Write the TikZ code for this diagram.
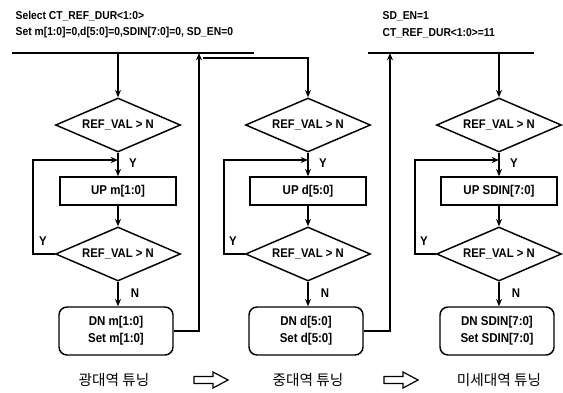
\documentclass[tikz,border=0pt]{standalone}
\usepackage{fontspec}
\setmainfont{Liberation Sans}[FakeStretch=0.9]
\newfontfamily\krfont{Noto Sans CJK KR}
\usetikzlibrary{shapes.geometric,arrows.meta}
\begin{document}
\begin{tikzpicture}[x=0.75pt,y=-0.75pt, line width=1.1pt,
  >={Stealth[length=5.5pt,width=4.5pt]},
  dec/.style={diamond, draw, aspect=2.3, minimum width=93.75pt, minimum height=40.5pt, inner sep=0pt,
    font=\bfseries\fontsize{9.4}{10}\selectfont},
  upbox/.style={rectangle, draw, minimum width=87pt, minimum height=21pt, inner sep=0pt,
    font=\bfseries\fontsize{9.6}{10}\selectfont},
  dnbox/.style={rectangle, rounded corners=6pt, draw, minimum width=85.5pt, minimum height=36pt,
    inner sep=0pt, align=center, font=\bfseries\fontsize{9.6}{12.5}\selectfont},
  lbl/.style={font=\bfseries\fontsize{9.5}{10}\selectfont, inner sep=1pt},
  toptxt/.style={font=\bfseries\fontsize{8.6}{12.5}\selectfont, align=left, anchor=north west, inner sep=0pt},
  kor/.style={font=\krfont\fontsize{11}{12}\selectfont, inner sep=0pt},
  hollow/.style={line width=0.9pt, line join=miter}]
\useasboundingbox (0,0) rectangle (563,392);

% ---------- top texts and bars
\node[toptxt] (tx1) at (15,10) {Select CT\_REF\_DUR<1:0>\\Set m[1:0]=0,d[5:0]=0,SDIN[7:0]=0, SD\_EN=0};
\node[toptxt] (tx2) at (382,11) {SD\_EN=1\\CT\_REF\_DUR<1:0>=11};
\coordinate (b1a) at (12,53);
\coordinate (b1b) at (254,53);
\coordinate (b2a) at (368,53);
\coordinate (b2b) at (534,53);
\draw (b1a) -- (b1b);
\draw (b2a) -- (b2b);

% ---------- column 1
\node[dec] (da1) at (118,125) {REF\_VAL > N};
\node[upbox] (up1) at (118,191) {UP m[1:0]};
\node[dec] (db1) at (118,254) {REF\_VAL > N};
\node[dnbox] (dn1) at (116,331) {DN m[1:0]\\Set m[1:0]};
\coordinate (s1) at (118,53);
\coordinate (j1) at (118,160);
\coordinate (r1) at (199,53);
\draw[->] (s1) -- (da1.north);
\draw[->] (da1.south) -- (up1.north);
\draw[->] (up1.south) -- (db1.north);
\draw[->] (db1.west) -- ++(-22,0) |- (j1);
\draw[->] (db1.south) -- (dn1.north -| db1.south);
\draw[->] (dn1.east) -| (r1);
\node[lbl] (y1) at (133,163) {Y};
\node[lbl] (y1b) at (43,241) {Y};
\node[lbl] (n1) at (135,293) {N};

% ---------- column 2
\node[dec] (da2) at (308,125) {REF\_VAL > N};
\node[upbox] (up2) at (308,191) {UP d[5:0]};
\node[dec] (db2) at (308,254) {REF\_VAL > N};
\node[dnbox] (dn2) at (306,331) {DN d[5:0]\\Set d[5:0]};
\coordinate (s2) at (203,58);
\coordinate (j2) at (308,160);
\coordinate (r2) at (390,53);
\draw[->] (s2) -| (da2.north);
\draw[->] (da2.south) -- (up2.north);
\draw[->] (up2.south) -- (db2.north);
\draw[->] (db2.west) -- ++(-21,0) |- (j2);
\draw[->] (db2.south) -- (dn2.north -| db2.south);
\draw[->] (dn2.east) -| (r2);
\node[lbl] (y2) at (323,163) {Y};
\node[lbl] (y2b) at (233,241) {Y};
\node[lbl] (n2) at (325,293) {N};

% ---------- column 3
\node[dec] (da3) at (499,125) {REF\_VAL > N};
\node[upbox] (up3) at (499,191) {UP SDIN[7:0]};
\node[dec] (db3) at (499,254) {REF\_VAL > N};
\node[dnbox] (dn3) at (497,331) {DN SDIN[7:0]\\Set SDIN[7:0]};
\coordinate (s3) at (499,53);
\coordinate (j3) at (499,160);
\draw[->] (s3) -- (da3.north);
\draw[->] (da3.south) -- (up3.north);
\draw[->] (up3.south) -- (db3.north);
\draw[->] (db3.west) -- ++(-21,0) |- (j3);
\draw[->] (db3.south) -- (dn3.north -| db3.south);
\node[lbl] (y3) at (514,163) {Y};
\node[lbl] (y3b) at (424,241) {Y};
\node[lbl] (n3) at (516,293) {N};

% ---------- bottom labels
\node[kor] (k1) at (114,380) {광대역 튜닝};
\node[kor] (k2) at (308,380) {중대역 튜닝};
\node[kor] (k3) at (499,380) {미세대역 튜닝};
\draw[hollow] (194,376.5) -- (213,376.5) -- (213,372) -- (228,380) -- (213,388) -- (213,383.5) -- (194,383.5) -- cycle;
\draw[hollow] (384,376.5) -- (403,376.5) -- (403,372) -- (418,380) -- (403,388) -- (403,383.5) -- (384,383.5) -- cycle;
\end{tikzpicture}
\end{document}
